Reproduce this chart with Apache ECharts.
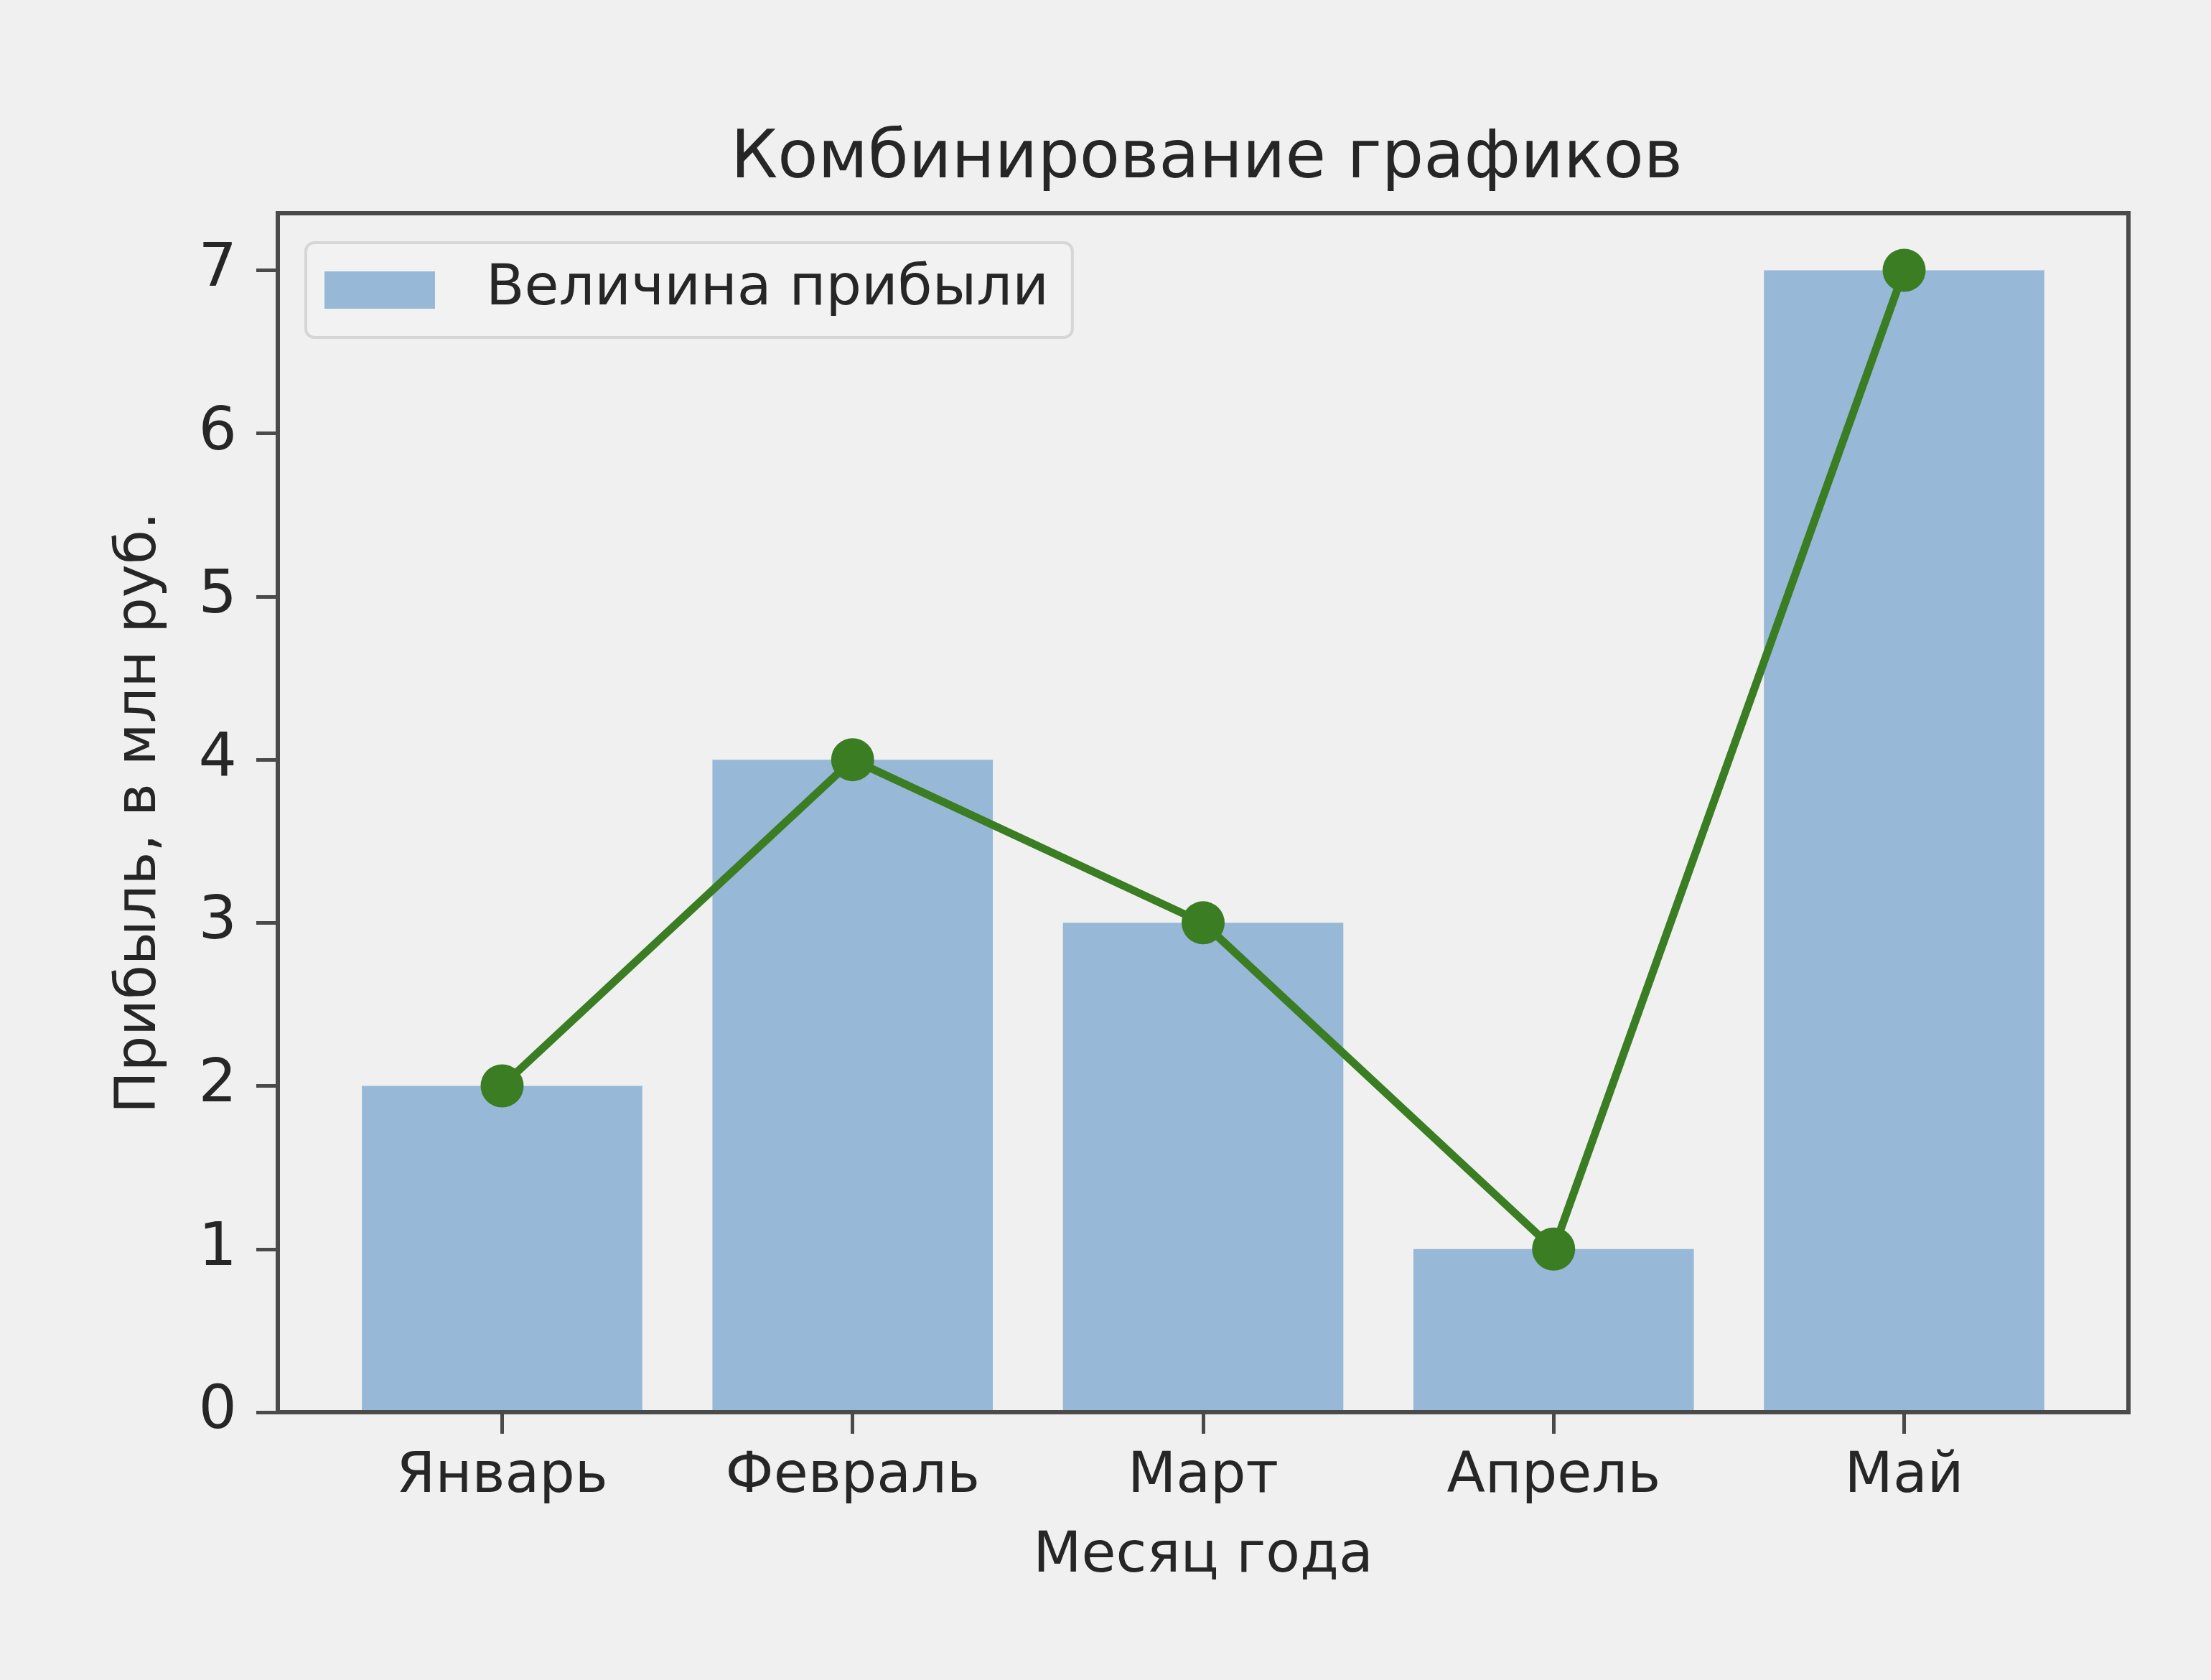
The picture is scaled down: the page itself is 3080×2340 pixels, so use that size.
<!DOCTYPE html>
<html>
<head>
<meta charset="utf-8">
<script src="https://cdn.jsdelivr.net/npm/echarts@6/dist/echarts.min.js"></script>
<style>
html,body{margin:0;padding:0;background:#f0f0f0;}
#c{width:3080px;height:2340px;}
</style>
</head>
<body>
<div id="c"></div>
<script>
const months = ['Январь', 'Февраль', 'Март', 'Апрель', 'Май'];
const profit = [2, 4, 3, 1, 7];
const xTicks = [0, 1, 2, 3, 4];
const yTicks = [0, 1, 2, 3, 4, 5, 6, 7];
const titleText = 'Комбинирование графиков';
const barName = 'Величина прибыли';
const xName = 'Месяц года';
const yName = 'Прибыль, в млн руб.';

const barData = profit.map((v, i) => [xTicks[i], v]);
const lineData = profit.map((v, i) => [xTicks[i], v]);

const FONT = 'DejaVu Sans';
const AX = '#4a4a4a';
const TXT = '#262626';
const FS = 78;

const chart = echarts.init(document.getElementById('c'), null, {renderer: 'canvas'});
chart.setOption({
  backgroundColor: '#f0f0f0',
  animation: false,
  title: {
    text: titleText,
    left: 1676,
    top: 172,
    textAlign: 'center',
    textStyle: {fontFamily: FONT, fontSize: 92, fontWeight: 'normal', color: TXT}
  },
  legend: {
    data: [barName],
    left: 426,
    top: 338,
    orient: 'vertical',
    padding: [26, 33, 26, 26],
    itemWidth: 154,
    itemHeight: 52,
    icon: 'rect',
    backgroundColor: '#f2f2f2',
    borderColor: '#d6d6d6',
    borderWidth: 4,
    borderRadius: 12,
    textStyle: {fontFamily: FONT, fontSize: FS, lineHeight: 80, color: TXT, padding: [0, 0, 0, 66]}
  },
  grid: {
    left: 387, right: 115, top: 297, bottom: 373,
    show: true,
    borderColor: AX,
    borderWidth: 6,
    backgroundColor: 'transparent',
    containLabel: false
  },
  xAxis: {
    type: 'value',
    min: -0.64,
    max: 4.64,
    z: 5,
    splitLine: {show: false},
    axisLine: {show: true, onZero: false, lineStyle: {color: AX, width: 6}},
    axisTick: {show: true, customValues: xTicks, length: 30, lineStyle: {color: AX, width: 5}},
    axisLabel: {
      customValues: xTicks,
      formatter: v => months[Math.round(v)],
      margin: 52,
      fontFamily: FONT, fontSize: FS, color: TXT
    },
    name: xName,
    nameLocation: 'middle',
    nameGap: 163,
    nameTextStyle: {fontFamily: FONT, fontSize: FS, color: TXT}
  },
  yAxis: {
    type: 'value',
    min: 0,
    max: 7.35,
    z: 5,
    splitLine: {show: false},
    axisLine: {show: true, onZero: false, lineStyle: {color: AX, width: 6}},
    axisTick: {show: true, customValues: yTicks, length: 30, lineStyle: {color: AX, width: 5}},
    axisLabel: {
      customValues: yTicks,
      margin: 57,
      fontFamily: FONT, fontSize: 84, color: TXT
    },
    name: yName,
    nameLocation: 'middle',
    nameRotate: 90,
    nameGap: 152,
    nameTextStyle: {fontFamily: FONT, fontSize: FS, color: TXT}
  },
  series: [
    {
      name: barName,
      type: 'custom',
      z: 2,
      itemStyle: {color: '#97b8d6'},
      data: barData,
      encode: {x: 0, y: 1},
      renderItem: function (params, api) {
        const x = api.value(0), y = api.value(1);
        const p0 = api.coord([x - 0.4, y]);
        const p1 = api.coord([x + 0.4, 0]);
        return {
          type: 'rect',
          shape: {x: p0[0], y: p0[1], width: p1[0] - p0[0], height: p1[1] - p0[1]},
          style: api.style()
        };
      }
    },
    {
      name: 'line',
      type: 'line',
      z: 4,
      data: lineData,
      symbol: 'circle',
      symbolSize: 60,
      lineStyle: {color: '#3a7d22', width: 11},
      itemStyle: {color: '#3a7d22'},
      emphasis: {disabled: true}
    }
  ]
});
</script>
</body>
</html>
